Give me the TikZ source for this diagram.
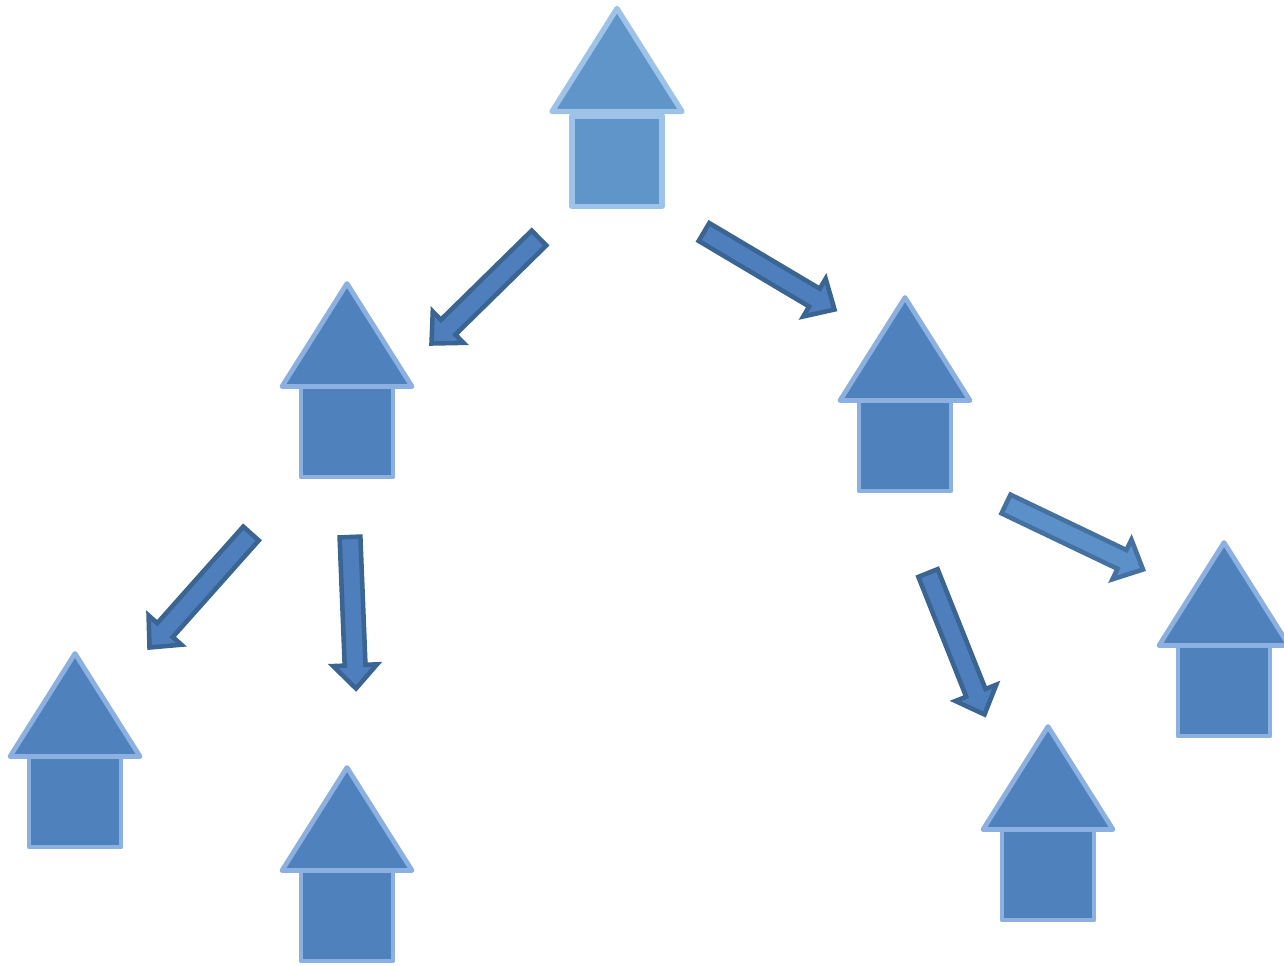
\documentclass[tikz,border=0pt]{standalone}
\usetikzlibrary{calc}
\definecolor{hfill}{HTML}{4F81BD}
\definecolor{hline}{HTML}{8CB0E0}
\definecolor{tfill}{HTML}{5F95C9}
\definecolor{tline}{HTML}{9DC3E9}
\definecolor{afill}{HTML}{4E7FBC}
\definecolor{aline}{HTML}{3A6491}
\definecolor{bfill}{HTML}{5B90C8}
\definecolor{bline}{HTML}{44719F}
\tikzset{
  plainhouse/.style={line width=3.6pt,line join=round,fill=hfill,draw=hline},
  tophouse/.style={line width=4pt,line join=round,fill=tfill,draw=tline},
  blockarrow/.style={line width=3.4pt,line join=miter,miter limit=10,fill=afill,draw=aline},
  lightarrow/.style={blockarrow,fill=bfill,draw=bline}
}
% #1 style, #2 cx, #3 apex y, #4 body half width, #5 body top below apex, #6 body bottom below apex
\newcommand{\myhouse}[6]{
  \draw[#1] (#2-#4,#3+#5) rectangle (#2+#4,#3+#6);
  \draw[#1] (#2,#3) -- (#2+65,#3+103) -- (#2-65,#3+103) -- cycle;
}
% #1 style, #2 tail, #3 tip
\newcommand{\myarrow}[3]{
  \coordinate (hb) at ($(#3)!17.5pt!(#2)$);
  \draw[#1] ($(#2)!7.8pt!90:(#3)$) -- ($(hb)!7.8pt!-90:(#2)$) -- ($(hb)!16.5pt!-90:(#2)$) -- (#3)
    -- ($(hb)!16.5pt!90:(#2)$) -- ($(hb)!7.8pt!90:(#2)$) -- ($(#2)!7.8pt!-90:(#3)$) -- cycle;
}
\begin{document}
\begin{tikzpicture}[x=0.75pt,y=-0.75pt]
\useasboundingbox (0,0) rectangle (1284,965);
\myhouse{tophouse}{617}{8.5}{45}{107.5}{198}
\myhouse{plainhouse}{347}{283.5}{46}{103}{193.5}
\myhouse{plainhouse}{905}{297.5}{46}{103}{193.5}
\myhouse{plainhouse}{75}{653.5}{46}{103}{193.5}
\myhouse{plainhouse}{347}{767.5}{46}{103}{193.5}
\myhouse{plainhouse}{1048}{726.5}{46}{103}{193.5}
\myhouse{plainhouse}{1224}{542.5}{46}{103}{193.5}
\coordinate (a1s) at (539,238); \coordinate (a1e) at (431.5,343.5);
\coordinate (a2s) at (704,232); \coordinate (a2e) at (834.5,309.5);
\coordinate (a3s) at (1006,504); \coordinate (a3e) at (1143,569.5);
\coordinate (a4s) at (251,533.5); \coordinate (a4e) at (149.5,647.5);
\coordinate (a5s) at (350,537); \coordinate (a5e) at (356,688.5);
\coordinate (a6s) at (928,573); \coordinate (a6e) at (984.5,714.5);
\myarrow{blockarrow}{a1s}{a1e}
\myarrow{blockarrow}{a2s}{a2e}
\myarrow{lightarrow}{a3s}{a3e}
\myarrow{blockarrow}{a4s}{a4e}
\myarrow{blockarrow}{a5s}{a5e}
\myarrow{blockarrow}{a6s}{a6e}
\end{tikzpicture}
\end{document}
